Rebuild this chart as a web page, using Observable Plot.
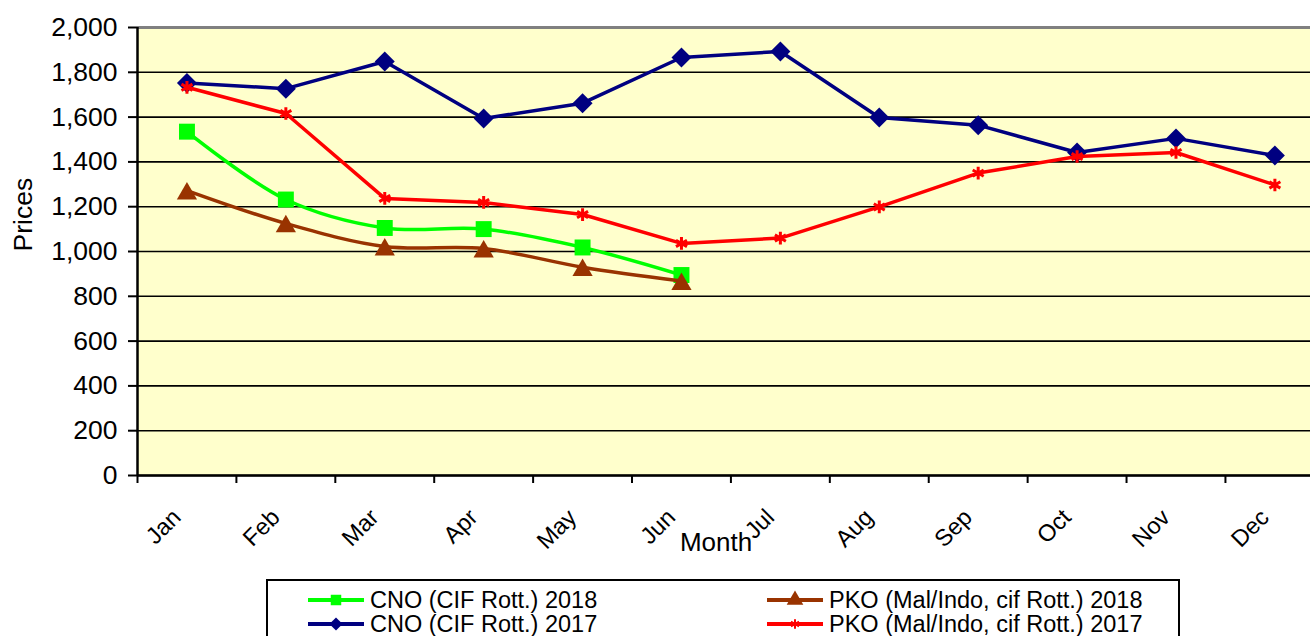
<!DOCTYPE html>
<html>
<head>
<meta charset="utf-8">
<script src="https://cdn.jsdelivr.net/npm/d3@7"></script>
<script src="https://cdn.jsdelivr.net/npm/@observablehq/plot@0.6"></script>
<style>
  html, body { margin: 0; padding: 0; background: #fff; }
  #wrap { position: relative; width: 1310px; height: 636px; overflow: hidden; font-family: "Liberation Sans", Arial, sans-serif; }
  #chart svg { display: block; }
  #legend { position: absolute; left: 266px; top: 579px; width: 914px; height: 90px; border: 2px solid #000; background: #fff; box-sizing: border-box; }
  .item { position: absolute; display: flex; align-items: center; height: 22px; font-size: 23.5px; line-height: 22px; color: #000; white-space: nowrap; }
  .item span { display: block; height: 22px; line-height: 22px; }
  .item svg { margin-right: 6px; }
</style>
</head>
<body>
<div id="wrap">
  <div id="chart"></div>
  <div id="legend"></div>
</div>
<script>
// ---- data ----
const months = ["Jan","Feb","Mar","Apr","May","Jun","Jul","Aug","Sep","Oct","Nov","Dec"];
const cno2018 = [1535, 1232, 1105, 1100, 1018, 895];
const pko2018 = [1272, 1125, 1022, 1013, 930, 868];
const cno2017 = [1752, 1727, 1848, 1594, 1662, 1866, 1893, 1598, 1564, 1442, 1505, 1429];
const pko2017 = [1733, 1616, 1237, 1219, 1165, 1036, 1060, 1199, 1350, 1424, 1442, 1297];
const yTicks = [0, 200, 400, 600, 800, 1000, 1200, 1400, 1600, 1800, 2000];

const seriesNames = ["CNO (CIF Rott.) 2018", "PKO (Mal/Indo, cif Rott.) 2018", "CNO (CIF Rott.) 2017", "PKO (Mal/Indo, cif Rott.) 2017"];
const toRows = (vals) => vals.map((v, i) => ({i: i + 0.5, month: months[i], value: v}));
const dCno18 = toRows(cno2018), dPko18 = toRows(pko2018), dCno17 = toRows(cno2017), dPko17 = toRows(pko2017);

const C = {green: "#00FF00", brown: "#993300", navy: "#000080", red: "#FF0000"};
const bandMax = 11.86; // visible portion of the 12 monthly bands

const plot = Plot.plot({
  width: 1310,
  height: 579,
  marginLeft: 137,
  marginRight: 0,
  marginTop: 27,
  marginBottom: 104,
  style: {fontFamily: "Liberation Sans, Arial, sans-serif", fontSize: "26px", color: "#000", background: "transparent", overflow: "visible"},
  x: {domain: [0, bandMax], axis: null},
  y: {domain: [0, 2000], axis: null},
  marks: [
    Plot.frame({fill: "#FFFFCC", stroke: null}),
    Plot.gridY(yTicks, {stroke: "#000", strokeOpacity: 1, strokeWidth: 1.6}),
    Plot.ruleY([2000], {stroke: "#808080", strokeWidth: 3}),
    Plot.axisY({ticks: yTicks, tickFormat: d3.format(","), tickSize: 9, tickPadding: 11, label: null, fontSize: 26.5, strokeWidth: 2}),
    Plot.axisX({ticks: d3.range(0, 12), tickFormat: () => "", tickSize: 8, label: null, strokeWidth: 2}),
    Plot.ruleX([0], {stroke: "#000", strokeWidth: 2.5}),
    Plot.ruleY([0], {stroke: "#000", strokeWidth: 2.5}),
    // series (Excel order)
    Plot.line(dCno18, {x: "i", y: "value", stroke: C.green, strokeWidth: 3.5, curve: "catmull-rom"}),
    Plot.dot(dCno18, {x: "i", y: "value", symbol: "square", fill: C.green, r: 9}),
    Plot.line(dPko18, {x: "i", y: "value", stroke: C.brown, strokeWidth: 3.5, curve: "catmull-rom"}),
    Plot.dot(dPko18, {x: "i", y: "value", symbol: "triangle", fill: C.brown, r: 7.5, dy: 3}),
    Plot.line(dCno17, {x: "i", y: "value", stroke: C.navy, strokeWidth: 3.5}),
    Plot.dot(dCno17, {x: "i", y: "value", symbol: "diamond2", fill: C.navy, r: 9}),
    Plot.line(dPko17, {x: "i", y: "value", stroke: C.red, strokeWidth: 3.5}),
    Plot.dot(dPko17, {x: "i", y: "value", symbol: "asterisk", stroke: C.red, strokeWidth: 3, r: 6}),
    // month labels
    Plot.text(months.map((m, i) => ({i: i + 0.5, m})), {x: "i", y: () => 0, text: "m", rotate: -45, textAnchor: "end", fontSize: 23.5, dx: -10, dy: 38}),
    // axis titles
    Plot.text(["Prices"], {frameAnchor: "left", text: d => d, rotate: -90, dx: -114, fontSize: 26.5}),
    Plot.text(["Month"], {frameAnchor: "bottom", text: d => d, dx: -8, dy: 75, fontSize: 26})
  ]
});
document.getElementById("chart").appendChild(plot);

// ---- legend ----
const legendItems = [
  {name: seriesNames[0], color: C.green, sym: d3.symbolSquare, size: 110, stroke: false, left: 40, top: 8},
  {name: seriesNames[1], color: C.brown, sym: d3.symbolTriangle, size: 120, stroke: false, left: 499, top: 8},
  {name: seriesNames[2], color: C.navy, sym: d3.symbolDiamond2, size: 110, stroke: false, left: 40, top: 32},
  {name: seriesNames[3], color: C.red, sym: d3.symbolAsterisk, size: 60, stroke: true, left: 499, top: 32}
];
const legend = d3.select("#legend");
for (const it of legendItems) {
  const div = legend.append("div").attr("class", "item").style("left", it.left + "px").style("top", it.top + "px");
  const svg = div.append("svg").attr("width", 56).attr("height", 22);
  svg.append("line").attr("x1", 0).attr("x2", 56).attr("y1", 11).attr("y2", 11).attr("stroke", it.color).attr("stroke-width", 4);
  const p = svg.append("path").attr("transform", "translate(28,11)").attr("d", d3.symbol(it.sym, it.size)());
  if (it.stroke) p.attr("fill", "none").attr("stroke", it.color).attr("stroke-width", 2);
  else p.attr("fill", it.color);
  div.append("span").text(it.name);
}
</script>
</body>
</html>
